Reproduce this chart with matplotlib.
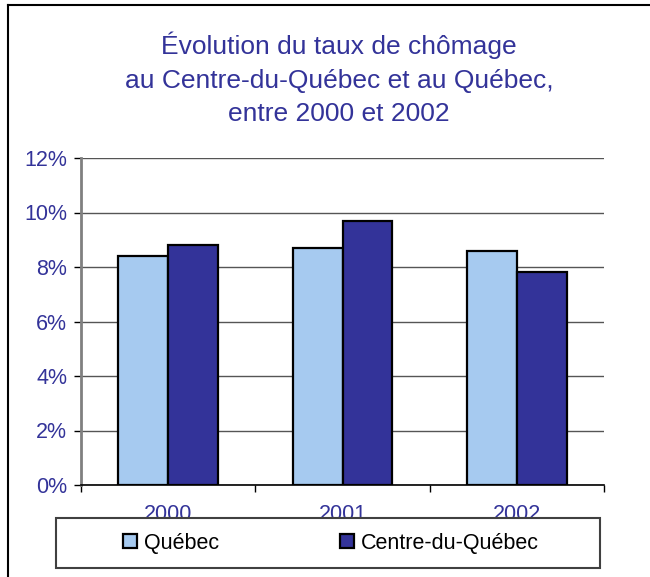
import matplotlib

matplotlib.use("Agg")
import matplotlib.pyplot as plt
from matplotlib.lines import Line2D
from matplotlib.patches import Patch, Rectangle
from matplotlib.ticker import FixedLocator, PercentFormatter

years = ["2000", "2001", "2002"]
quebec = [8.4, 8.7, 8.6]
centre_du_quebec = [8.8, 9.7, 7.8]
series_labels = ["Québec", "Centre-du-Québec"]

TEXT_BLUE = "#333399"
LIGHT_BLUE = "#A6CAF0"
DARK_BLUE = "#333399"

plt.rcParams["font.family"] = ["Liberation Sans", "DejaVu Sans"]

W, H = 650, 577
fig = plt.figure(figsize=(W / 100, H / 100), dpi=100)
ax = fig.add_axes([81 / W, 1 - 485 / H, (604 - 81) / W, (485 - 158) / H])

x = range(len(years))
bw = 50 / 175
ax.bar([i - bw / 2 for i in x], quebec, width=bw, color=LIGHT_BLUE,
       edgecolor="black", linewidth=1.6, zorder=3)
ax.bar([i + bw / 2 for i in x], centre_du_quebec, width=bw, color=DARK_BLUE,
       edgecolor="black", linewidth=1.6, zorder=3)

ax.set_xlim(-0.5, len(years) - 0.5)
ax.set_ylim(0, 12)
ax.set_yticks(range(0, 13, 2))
ax.yaxis.set_major_formatter(PercentFormatter(decimals=0))
ax.grid(axis="y", color="#555555", linewidth=1.0, zorder=0)

ax.set_xticks(list(x))
ax.set_xticklabels(years)
ax.xaxis.set_minor_locator(FixedLocator([-0.5, 0.5, 1.5, 2.5]))
ax.tick_params(axis="x", which="major", length=0, pad=14,
               labelsize=15.5, labelcolor=TEXT_BLUE)
ax.tick_params(axis="x", which="minor", length=5, width=1, direction="out")
ax.tick_params(axis="y", length=5, width=1, pad=5,
               labelsize=15.5, labelcolor=TEXT_BLUE)

for side in ("top", "right"):
    ax.spines[side].set_visible(False)
ax.spines["left"].set_color("#808080")
ax.spines["left"].set_linewidth(2)
ax.spines["bottom"].set_color("black")
ax.spines["bottom"].set_linewidth(1.2)

fig.text(339 / W, 1 - 79 / H,
         "Évolution du taux de chômage\n"
         "au Centre-du-Québec et au Québec,\n"
         "entre 2000 et 2002",
         ha="center", va="center", fontsize=19, color=TEXT_BLUE,
         linespacing=1.5)

# legend box
fig.patches.append(Rectangle((56 / W, 1 - 568 / H), (600 - 56) / W, 50 / H,
                             transform=fig.transFigure, facecolor="white",
                             edgecolor="#404040", linewidth=1.5, zorder=2))
handles = [Patch(facecolor=LIGHT_BLUE, edgecolor="black", linewidth=1.6),
           Patch(facecolor=DARK_BLUE, edgecolor="black", linewidth=1.6)]
fig.legend(handles, series_labels, loc="center", ncol=2,
           bbox_to_anchor=(331 / W, 1 - 543 / H), frameon=False,
           fontsize=15.5, handlelength=0.65, handleheight=0.65,
           handletextpad=0.35, columnspacing=5.6)

# outer frame
fig.add_artist(Line2D([8 / W, 8 / W], [0, 1 - 5 / H], color="black",
                      linewidth=1.5, transform=fig.transFigure))
fig.add_artist(Line2D([8 / W, 1], [1 - 5 / H, 1 - 5 / H], color="black",
                      linewidth=1.5, transform=fig.transFigure))

fig.savefig("out.png", dpi=100)
